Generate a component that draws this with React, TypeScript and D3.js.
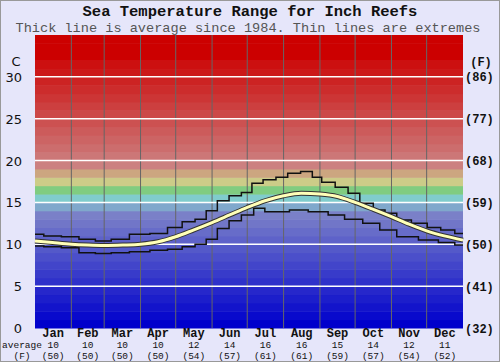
import React, { useEffect, useRef } from 'react';
import * as d3 from 'd3';

// month names and the monthly averages printed under the chart
const months = ['Jan', 'Feb', 'Mar', 'Apr', 'May', 'Jun', 'Jul', 'Aug', 'Sep', 'Oct', 'Nov', 'Dec'];
const monthAvgC = [10, 10, 10, 10, 12, 14, 16, 16, 15, 14, 12, 11];
const monthAvgF = [50, 50, 50, 50, 54, 57, 61, 61, 59, 57, 54, 52];
const monthStart = [0, 31, 59, 90, 120, 151, 181, 212, 243, 273, 304, 334, 365];

// tick labels
const ticksC = [0, 5, 10, 15, 20, 25, 30];
const ticksF = ['(32)', '(41)', '(50)', '(59)', '(68)', '(77)', '(86)'];

// average line (day of year, deg C)
const avgDays = [0, 15, 31, 45, 59, 75, 90, 105, 120, 135, 151, 166, 181, 196, 212, 227, 243, 258, 273, 288, 304, 319, 334, 349, 365];
const avgTemp = [10.4, 10.2, 10.0, 9.9, 9.85, 9.9, 10.0, 10.3, 10.9, 11.7, 12.6, 13.5, 14.4, 15.2, 15.8, 16.1, 16.0, 15.7, 15.0, 14.2, 13.3, 12.4, 11.6, 11.0, 10.5];

// highest recorded
const maxDays = [0, 15, 30, 45, 58, 72, 89, 107, 119, 132, 141, 151, 160, 171, 181, 189, 200, 211, 220, 233, 240, 249, 263, 271, 283, 294, 303, 314, 328, 341, 351, 365];
const maxTemp = [11.2, 11.0, 10.9, 10.6, 10.4, 10.6, 11.2, 11.3, 12.0, 12.7, 13.0, 14.0, 15.2, 15.8, 16.2, 17.3, 17.7, 18.0, 18.5, 18.7, 18.0, 17.4, 16.8, 16.1, 14.9, 14.1, 13.7, 12.9, 12.5, 12.0, 11.7, 11.3];

// lowest recorded
const minDays = [0, 15, 30, 45, 58, 72, 89, 107, 119, 132, 141, 151, 160, 171, 181, 192, 200, 211, 223, 243, 257, 271, 288, 300, 317, 337, 351, 365];
const minTemp = [9.8, 9.7, 9.6, 9.0, 8.9, 9.0, 9.1, 9.3, 9.4, 9.7, 10.0, 10.6, 11.9, 12.8, 13.5, 14.3, 13.9, 13.9, 14.1, 13.9, 13.5, 13.0, 12.5, 11.7, 10.9, 10.5, 10.2, 9.9];

function bandColor(k: number) {
  if (k <= 13) return d3.interpolateRgb('#0000cc', '#7a80c8')(k / 13);
  if (k === 14) return '#80a8cc';
  if (k === 15) return '#80cccc';
  if (k === 16) return '#80cc80';
  if (k === 17) return '#cccc88';
  if (k === 18) return '#cca680';
  if (k >= 32) return '#cc0000';
  return d3.interpolateRgb('#cc8080', '#cc1010')((k - 19) / 12);
}

export default function App() {
  const ref = useRef<SVGSVGElement>(null);

  useEffect(() => {
    const svg = d3.select(ref.current);
    svg.selectAll('*').remove();

    const W = 500, H = 362;
    const x = d3.scaleLinear().domain([0, 365]).range([35, 463]);
    const y = d3.scaleLinear().domain([0, 35]).range([328, 35]);

    svg.append('rect').attr('width', W).attr('height', H).attr('fill', '#e6e6fa');
    svg.append('rect').attr('x', 0.5).attr('y', 0.5).attr('width', W - 1).attr('height', H - 1)
      .attr('fill', 'none').attr('stroke', '#999');

    // temperature bands
    svg.append('g').selectAll('rect').data(d3.range(0, 35)).enter().append('rect')
      .attr('x', x(0)).attr('width', x(365) - x(0))
      .attr('y', (d) => y(d + 1)).attr('height', (d) => y(d) - y(d + 1) + 0.5)
      .attr('fill', (d) => bandColor(d));

    // month dividers
    svg.append('g').selectAll('line').data(monthStart.slice(1, 12)).enter().append('line')
      .attr('x1', (d) => x(d)).attr('x2', (d) => x(d)).attr('y1', y(35)).attr('y2', y(0))
      .attr('stroke', '#666').attr('stroke-width', 1);

    // white grid lines
    svg.append('g').selectAll('line').data(ticksC.slice(1)).enter().append('line')
      .attr('x1', x(0)).attr('x2', x(365)).attr('y1', (d) => y(d)).attr('y2', (d) => y(d))
      .attr('stroke', '#fff').attr('stroke-width', 1.5);

    const thin = (days: number[], temps: number[]) =>
      d3.line<number>().curve(d3.curveStep)
        .x((d, i) => x(days[i])).y((d) => y(d))(temps);

    svg.append('path').attr('d', thin(maxDays, maxTemp)).attr('fill', 'none')
      .attr('stroke', '#111').attr('stroke-width', 1.5);
    svg.append('path').attr('d', thin(minDays, minTemp)).attr('fill', 'none')
      .attr('stroke', '#111').attr('stroke-width', 1.5);

    const avgPath = d3.line<number>().curve(d3.curveMonotoneX)
      .x((d, i) => x(avgDays[i])).y((d) => y(d))(avgTemp);
    svg.append('path').attr('d', avgPath).attr('fill', 'none')
      .attr('stroke', '#333').attr('stroke-width', 5);
    svg.append('path').attr('d', avgPath).attr('fill', 'none')
      .attr('stroke', '#ffffb8').attr('stroke-width', 3);

    const mono = 'Liberation Mono, Courier New, monospace';

    // titles
    svg.append('text').attr('x', 250).attr('y', 15.5).attr('text-anchor', 'middle')
      .attr('font-family', mono).attr('font-weight', 'bold').attr('font-size', 15.5)
      .attr('fill', '#111').text('Sea Temperature Range for Inch Reefs');
    svg.append('text').attr('x', 248).attr('y', 32).attr('text-anchor', 'middle')
      .attr('font-family', mono).attr('font-size', 13.6)
      .attr('fill', '#555').text('Thick line is average since 1984. Thin lines are extremes');

    // left axis
    svg.append('text').attr('x', 16).attr('y', 66).attr('text-anchor', 'middle')
      .attr('font-family', 'DejaVu Sans').attr('font-size', 13).attr('fill', '#111').text('C');
    svg.append('g').selectAll('text').data(ticksC).enter().append('text')
      .attr('x', 22).attr('y', (d) => y(d) + 5).attr('text-anchor', 'end')
      .attr('font-family', 'DejaVu Sans').attr('font-size', 13).attr('fill', '#111')
      .text((d) => d);

    // right axis
    svg.append('text').attr('x', 481).attr('y', 66).attr('text-anchor', 'middle')
      .attr('font-family', mono).attr('font-weight', 'bold').attr('font-size', 12)
      .attr('fill', '#111').text('(F)');
    svg.append('g').selectAll('text').data(ticksF).enter().append('text')
      .attr('x', 465).attr('y', (d, i) => y(ticksC[i]) + 4.5).attr('text-anchor', 'start')
      .attr('font-family', mono).attr('font-weight', 'bold').attr('font-size', 12)
      .attr('fill', '#111').text((d) => d);

    // month labels
    const mid = (i: number) => x((monthStart[i] + monthStart[i + 1]) / 2);
    const bottom = svg.append('g').attr('font-family', mono).attr('fill', '#111').attr('text-anchor', 'middle');
    bottom.selectAll('text.m').data(months).enter().append('text').attr('class', 'm')
      .attr('x', (d, i) => mid(i)).attr('y', 336.5).attr('font-size', 12).attr('font-weight', 'bold')
      .text((d) => d);
    bottom.selectAll('text.c').data(monthAvgC).enter().append('text').attr('class', 'c')
      .attr('x', (d, i) => mid(i)).attr('y', 348).attr('font-size', 9.5)
      .text((d) => d);
    bottom.selectAll('text.f').data(monthAvgF).enter().append('text').attr('class', 'f')
      .attr('x', (d, i) => mid(i)).attr('y', 358.5).attr('font-size', 9.5)
      .text((d) => `(${d})`);
    bottom.append('text').attr('x', 22).attr('y', 348).attr('font-size', 9.5).text('average');
    bottom.append('text').attr('x', 22).attr('y', 358.5).attr('font-size', 9.5).text('(F)');
  }, []);

  return (
    <div style={{ position: 'absolute', left: 0, top: 0 }}>
      <svg ref={ref} width={500} height={362} style={{ display: 'block' }} />
    </div>
  );
}
